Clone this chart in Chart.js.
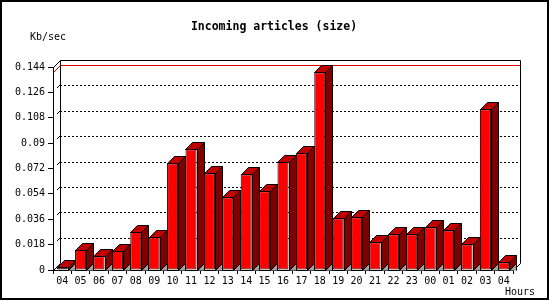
<!DOCTYPE html>
<html>
<head>
<meta charset="utf-8">
<script src="https://cdn.jsdelivr.net/npm/chart.js@4.4.1/dist/chart.umd.min.js"></script>
<style>
  html, body { margin: 0; padding: 0; background: #fff; }
  canvas { display: block; }
</style>
</head>
<body>
<canvas id="sizeChart" width="550" height="300"></canvas>
<script>
/* ── data ─────────────────────────────────────────────── */
const hours = ['04', '05', '06', '07', '08', '09', '10', '11', '12', '13', '14', '15',
               '16', '17', '18', '19', '20', '21', '22', '23', '00', '01', '02', '03', '04'];
const kbPerSec = [0.002, 0.0142, 0.0097, 0.0135, 0.027, 0.0232, 0.0757, 0.0856, 0.0686,
                  0.0516, 0.0679, 0.0558, 0.0766, 0.0828, 0.1402, 0.0367, 0.0374, 0.0196,
                  0.0253, 0.0253, 0.0303, 0.0281, 0.0182, 0.114, 0.0055];
const yTicks = [0, 0.018, 0.036, 0.054, 0.072, 0.09, 0.108, 0.126, 0.144];
const yTickLabels = ['0', '0.018', '0.036', '0.054', '0.072', '0.09', '0.108', '0.126', '0.144'];

const MONO = "'DejaVu Sans Mono', monospace";
const DEPTH = 7;

/* ── 3D frame, back wall, max line ─────────────────────── */
const frame3d = {
  id: 'frame3d',
  beforeDatasetsDraw(chart) {
    const { ctx, chartArea: a, scales: { y } } = chart;
    const D = DEPTH;
    ctx.save();
    ctx.lineWidth = 1;

    // dotted grid on the back wall
    ctx.strokeStyle = '#000';
    ctx.setLineDash([2, 2]);
    yTicks.slice(1, -1).forEach(v => {
      const py = Math.round(y.getPixelForValue(v)) - D + 0.5;
      ctx.beginPath();
      ctx.moveTo(a.left + D, py);
      ctx.lineTo(a.right + D, py);
      ctx.stroke();
    });
    ctx.setLineDash([]);

    // small depth ticks on the side wall
    yTicks.slice(1, -1).forEach(v => {
      const py = Math.round(y.getPixelForValue(v));
      ctx.beginPath();
      ctx.moveTo(a.left + D - 3, py - D + 3);
      ctx.lineTo(a.left + D, py - D);
      ctx.stroke();
    });

    // max value line in red
    const maxY = Math.round(y.getPixelForValue(Math.max(...kbPerSec)));
    ctx.strokeStyle = '#e00000';
    ctx.beginPath();
    ctx.moveTo(a.left + 0.5, maxY + 0.5);
    ctx.lineTo(a.left + D + 0.5, maxY - D + 0.5);
    ctx.lineTo(a.right + D, maxY - D + 0.5);
    ctx.stroke();

    // back wall outline
    ctx.strokeStyle = '#000';
    const bl = a.left + D + 0.5, bt = Math.round(a.top) - D + 0.5;
    const br = Math.round(a.right) + D + 0.5, bb = Math.round(a.bottom) - D + 0.5;
    ctx.beginPath();
    ctx.moveTo(bl, bb);
    ctx.lineTo(bl, bt);
    ctx.lineTo(br, bt);
    ctx.lineTo(br, bb);
    ctx.stroke();

    // side wall top / floor edges
    ctx.beginPath();
    ctx.moveTo(a.left + 0.5, a.top + 0.5);
    ctx.lineTo(bl, bt);
    ctx.moveTo(a.left + 0.5, a.bottom + 0.5);
    ctx.lineTo(bl, bb);
    ctx.moveTo(Math.round(a.right) + 0.5, a.bottom + 0.5);
    ctx.lineTo(br, bb);
    ctx.stroke();
    ctx.restore();
  },
  afterDatasetsDraw(chart) {
    const { ctx, chartArea: a } = chart;
    const D = DEPTH;
    const bars = chart.getDatasetMeta(0).data;
    ctx.save();
    ctx.lineWidth = 1;
    ctx.strokeStyle = '#000';
    bars.forEach(bar => {
      const l = Math.round(bar.x - bar.width / 2) + 0.5;
      const r = Math.round(bar.x + bar.width / 2) + 0.5;
      const t = Math.round(bar.y) + 0.5;
      const b = Math.round(a.bottom) + 0.5;

      // floor shadow
      ctx.fillStyle = '#a0a0a0';
      ctx.beginPath();
      ctx.moveTo(r, b);
      ctx.lineTo(r + D, b - D);
      ctx.lineTo(r + D, b);
      ctx.closePath();
      ctx.fill();
      ctx.beginPath();
      ctx.moveTo(r + D, b - D);
      ctx.lineTo(r + D, b);
      ctx.stroke();

      // top face
      ctx.fillStyle = '#c00000';
      ctx.beginPath();
      ctx.moveTo(l, t);
      ctx.lineTo(l + D, t - D);
      ctx.lineTo(r + D, t - D);
      ctx.lineTo(r, t);
      ctx.closePath();
      ctx.fill();
      ctx.stroke();

      // side face
      ctx.fillStyle = '#800000';
      ctx.beginPath();
      ctx.moveTo(r, t);
      ctx.lineTo(r + D, t - D);
      ctx.lineTo(r + D, b - D);
      ctx.lineTo(r, b);
      ctx.closePath();
      ctx.fill();
      ctx.stroke();
    });
    ctx.restore();
  },
  afterDraw(chart) {
    const { ctx, width, height } = chart;
    ctx.save();
    ctx.fillStyle = '#000';
    ctx.textBaseline = 'middle';
    ctx.font = 'bold 11.5px ' + MONO;
    ctx.textAlign = 'center';
    ctx.fillText('Incoming articles (size)', 274, 27);
    ctx.font = '10px ' + MONO;
    ctx.textAlign = 'left';
    ctx.fillText('Kb/sec', 30, 37);
    ctx.fillText('Hours', 505, 292);
    ctx.lineWidth = 2;
    ctx.strokeStyle = '#000';
    ctx.strokeRect(1, 1, width - 3, height - 2);
    ctx.restore();
  }
};

/* ── chart ──────────────────────────────────────────────── */
new Chart(document.getElementById('sizeChart'), {
  type: 'bar',
  data: {
    labels: hours,
    datasets: [{
      data: kbPerSec,
      backgroundColor: '#ff0000',
      borderColor: '#000',
      borderWidth: 1,
      borderSkipped: false,
      barPercentage: 0.6,
      categoryPercentage: 1.0
    }]
  },
  options: {
    responsive: false,
    animation: false,
    devicePixelRatio: 1,
    layout: { padding: { left: 0, top: 67, right: 37, bottom: 0 } },
    plugins: { legend: { display: false }, tooltip: { enabled: false }, title: { display: false } },
    scales: {
      x: {
        afterFit: s => { s.height = 30; },
        grid: { drawOnChartArea: false, drawTicks: true, tickLength: 4, color: '#000' },
        border: { color: '#000', width: 1 },
        ticks: { color: '#000', font: { family: MONO, size: 10 }, padding: 1, maxRotation: 0, autoSkip: false }
      },
      y: {
        min: 0,
        max: 0.144,
        afterFit: s => { s.width = 53; },
        afterBuildTicks: s => { s.ticks = yTicks.map(v => ({ value: v })); },
        grid: { drawOnChartArea: false, drawTicks: true, tickLength: 5, color: '#000' },
        border: { color: '#000', width: 1 },
        ticks: {
          color: '#000',
          font: { family: MONO, size: 10 },
          padding: 3,
          callback: (v, i) => yTickLabels[i]
        }
      }
    }
  },
  plugins: [frame3d]
});
</script>
</body>
</html>
